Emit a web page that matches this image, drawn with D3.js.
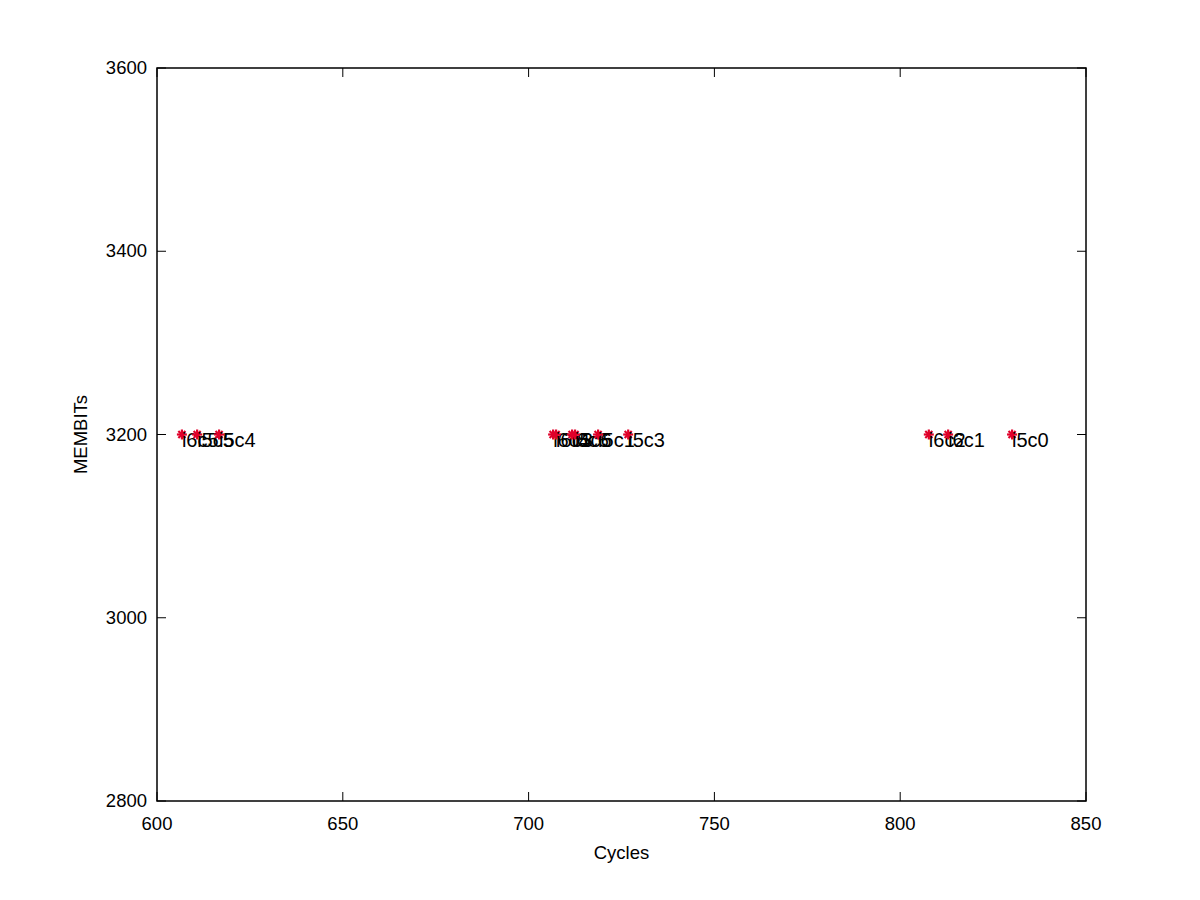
<!DOCTYPE html><html><head><script src="https://cdn.jsdelivr.net/npm/d3@7"></script>
<style>body{margin:0;background:#fff}text{font-family:"Liberation Sans",Arial,sans-serif}</style></head><body>
<svg id="c" width="1200" height="900"></svg>
<script>
const labels=["i6c5","i5c5","i5c4","i6c4","i6c3","i6c6","i5c6","i5c1","i5c3","i6c2","i6c1","i5c0"];
const cycles=[606.7,610.8,616.7,706.6,707.4,711.7,712.5,718.7,726.8,807.7,812.9,830.1];
const membits=[3200,3200,3200,3200,3200,3200,3200,3200,3200,3200,3200,3200];
const xTicks=[600,650,700,750,800,850];
const yTicks=[2800,3000,3200,3400,3600];
const svg=d3.select("#c");
const L=157,R=1086,T=68,B=801;
const x=d3.scaleLinear().domain([600,850]).range([L,R]);
const y=d3.scaleLinear().domain([2800,3600]).range([B,T]);
const fs="18.5px";
svg.append("rect").attr("x",L).attr("y",T).attr("width",R-L).attr("height",B-T).attr("fill","none").attr("stroke","#000").attr("stroke-width",1.5);
xTicks.forEach(t=>{const px=x(t);
 svg.append("line").attr("x1",px).attr("x2",px).attr("y1",B).attr("y2",B-9).attr("stroke","#000");
 svg.append("line").attr("x1",px).attr("x2",px).attr("y1",T).attr("y2",T+9).attr("stroke","#000");
 svg.append("text").attr("x",px).attr("y",B+29).attr("text-anchor","middle").style("font-size",fs).text(t);});
yTicks.forEach(t=>{const py=y(t);
 svg.append("line").attr("x1",L).attr("x2",L+9).attr("y1",py).attr("y2",py).attr("stroke","#000");
 svg.append("line").attr("x1",R).attr("x2",R-9).attr("y1",py).attr("y2",py).attr("stroke","#000");
 svg.append("text").attr("x",L-10).attr("y",py+6).attr("text-anchor","end").style("font-size",fs).text(t);});
svg.append("text").attr("x",(L+R)/2).attr("y",859).attr("text-anchor","middle").style("font-size",fs).text("Cycles");
svg.append("text").attr("transform",`translate(87,${(T+B)/2}) rotate(-90)`).attr("text-anchor","middle").style("font-size",fs).text("MEMBITs");
cycles.forEach((c,i)=>{const px=x(c),py=y(membits[i]);
 const g=svg.append("g").attr("transform",`translate(${px},${py})`);
 [0,45,90,135].forEach(a=>g.append("line").attr("x1",-5).attr("x2",5).attr("transform",`rotate(${a})`).attr("stroke","#e0002a").attr("stroke-width",2.2));
 svg.append("text").attr("x",px).attr("y",py+12).style("font-size","20px").text(labels[i]);});
</script></body></html>
